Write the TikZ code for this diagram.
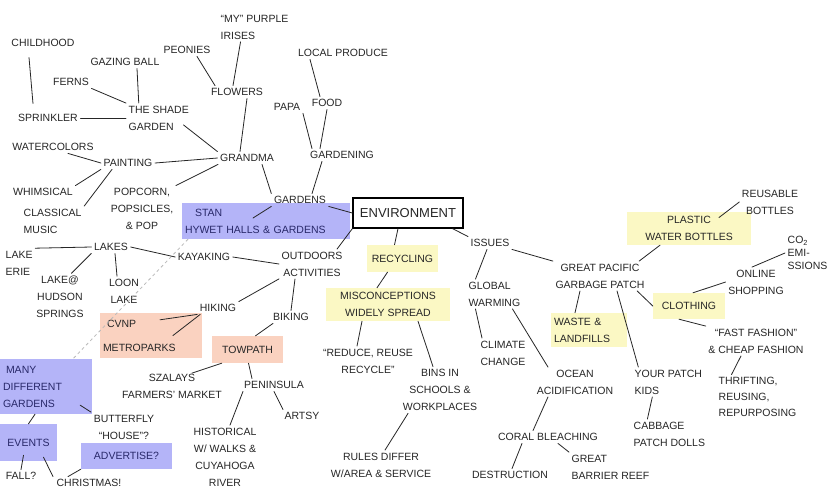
\documentclass[tikz,border=0pt]{standalone}
\usepackage{fontspec}
\setmainfont{Liberation Sans}
\definecolor{inkgray}{RGB}{38,38,38}
\definecolor{navyink}{RGB}{40,40,105}
\definecolor{hiblue}{RGB}{180,180,248}
\definecolor{hipeach}{RGB}{250,210,192}
\definecolor{hiyellow}{RGB}{251,248,196}
\newcommand\handfont{\fontsize{10.5}{17}\selectfont}
\begin{document}
\begin{tikzpicture}[x=1pt, y=-1pt,
  word/.style={font=\handfont, text=inkgray, align=center, inner sep=2.5pt},
  bluebox/.style={word, fill=hiblue, text=navyink, inner sep=3pt},
  peachbox/.style={word, fill=hipeach, inner sep=3pt},
  yellowbox/.style={word, fill=hiyellow, inner sep=3pt},
  link/.style={draw=inkgray, line width=0.8pt, line cap=round},
  dashlink/.style={draw=gray!55, line width=0.8pt, dashed}]
  % Page frame, same size as the scan
  \useasboundingbox[fill=white] (0,0) rectangle (838,496);

  % Childhood memories around Grandma
  \node[word] (childhood) at (43,43) {CHILDHOOD};
  \node[word] (gazing) at (125,62) {GAZING BALL};
  \node[word] (peonies) at (187,50) {PEONIES};
  \node[word, anchor=west, align=left] (irises) at (218,27) {``MY'' PURPLE\\IRISES};
  \node[word] (ferns) at (71,82) {FERNS};
  \node[word, anchor=west, align=left] (shade) at (126,118) {THE SHADE\\GARDEN};
  \node[word] (flowers) at (237,92) {FLOWERS};
  \node[word] (sprinkler) at (48,118) {SPRINKLER};
  \node[word] (watercolors) at (53,147) {WATERCOLORS};
  \node[word] (painting) at (128,163) {PAINTING};
  \node[word] (grandma) at (247,158) {GRANDMA};
  \node[word] (whimsical) at (43,192) {WHIMSICAL};
  \node[word, anchor=west, align=left] (classical) at (21,221) {CLASSICAL\\MUSIC};
  \node[word] (popcorn) at (142,209) {POPCORN,\\POPSICLES,\\\& POP};
  % Papa, food and gardening
  \node[word] (local) at (343,53) {LOCAL PRODUCE};
  \node[word] (papa) at (287,107) {PAPA};
  \node[word] (food) at (327,103) {FOOD};
  \node[word] (gardening) at (342,155) {GARDENING};
  \node[bluebox, text width=162pt, minimum height=36pt, align=left]
    (stan) at (266,221) {\hspace{10pt}STAN\\HYWET HALLS \& GARDENS};
  \node[word] (gardens) at (300,200) {GARDENS};

  % Central topic
  \node[word, font=\fontsize{13}{15}\selectfont, draw=black, line width=1.3pt,
    fill=white, minimum width=110pt, minimum height=30pt] (environment)
    at (408,213) {ENVIRONMENT};

  % Lakes and outdoor activities
  \node[word] (lakes) at (111,247) {LAKES};
  \node[word, anchor=west, align=left] (erie) at (3,263) {LAKE\\ERIE};
  \node[word] (hudson) at (60,297) {LAKE@\\HUDSON\\SPRINGS};
  \node[word] (loon) at (124,291) {LOON\\LAKE};
  \node[word] (kayaking) at (204,257) {KAYAKING};
  \node[word] (outdoors) at (312,264) {OUTDOORS\\ACTIVITIES};
  \node[word] (hiking) at (218,308) {HIKING};
  \node[word] (biking) at (291,317) {BIKING};
  \node[peachbox, text width=96pt, minimum height=45pt, align=left]
    (cvnp) at (151,335.5) {\hspace{4pt}CVNP\\[7pt]METROPARKS};
  \node[peachbox, minimum width=71pt, minimum height=27pt]
    (towpath) at (247.5,349.5) {TOWPATH};
  \node[word] (szalays) at (172,386) {SZALAYS\\FARMERS' MARKET};
  \node[word] (peninsula) at (274,385) {PENINSULA};
  \node[word] (artsy) at (302,416) {ARTSY};
  \node[word] (historical) at (225,457) {HISTORICAL\\W/ WALKS \&\\CUYAHOGA\\RIVER};

  % Events at the gardens (bottom left)
  \node[bluebox, text width=86pt, minimum height=55pt, align=left]
    (many) at (46,386.5) {\hspace{3pt}MANY\\DIFFERENT\\GARDENS};
  \node[word] (butterfly) at (124,427) {BUTTERFLY\\``HOUSE''?};
  \node[bluebox, minimum width=57pt, minimum height=37pt]
    (events) at (28.5,442.5) {EVENTS};
  \node[word] (fall) at (21,476) {FALL?};
  \node[word] (christmas) at (89,483) {CHRISTMAS!};
  \node[bluebox, minimum width=91pt, minimum height=26pt]
    (advertise) at (126.5,456) {ADVERTISE?};

  % Recycling branch
  \node[yellowbox, minimum width=71pt, minimum height=27pt]
    (recycling) at (402.5,258.5) {RECYCLING};
  \node[yellowbox, minimum width=124pt, minimum height=33pt]
    (misconceptions) at (388,304.5) {MISCONCEPTIONS\\WIDELY SPREAD};
  \node[word] (reduce) at (368,361) {``REDUCE, REUSE\\RECYCLE''};
  \node[word] (bins) at (440,390) {BINS IN\\SCHOOLS \&\\WORKPLACES};
  \node[word] (rules) at (381,465) {RULES DIFFER\\W/AREA \& SERVICE};

  % Issues branch
  \node[word] (issues) at (490,243) {ISSUES};
  \node[word, anchor=west, align=left] (global) at (466,294) {GLOBAL\\WARMING};
  \node[word] (climate) at (503,353) {CLIMATE\\CHANGE};
  \node[word] (ocean) at (575,382) {OCEAN\\ACIDIFICATION};
  \node[word] (coral) at (548,437) {CORAL BLEACHING};
  \node[word] (destruction) at (510,475) {DESTRUCTION};
  \node[word, anchor=west, align=left] (reef) at (569,467) {GREAT\\BARRIER REEF};
  \node[word] (pacific) at (600,276) {GREAT PACIFIC\\GARBAGE PATCH};
  \node[yellowbox, minimum width=124pt, minimum height=33pt]
    (plastic) at (689,228.5) {PLASTIC\\WATER BOTTLES};
  \node[word] (reusable) at (770,202) {REUSABLE\\BOTTLES};
  \node[word, anchor=west, align=left] (co2) at (785,253)
    {CO\textsubscript{2}\\[-4pt]EMI-\\[-4pt]SSIONS};
  \node[word] (online) at (756,282) {ONLINE\\SHOPPING};
  \node[yellowbox, minimum width=72pt, minimum height=26pt]
    (clothing) at (689,306) {CLOTHING};
  \node[yellowbox, text width=70pt, minimum height=34pt, align=left]
    (waste) at (589,330) {WASTE \&\\LANDFILLS};
  \node[word] (fast) at (756,341) {``FAST FASHION''\\\& CHEAP FASHION};
  \node[word, anchor=west, align=left] (thrifting) at (716,397)
    {THRIFTING,\\[-1pt]REUSING,\\[-1pt]REPURPOSING};
  \node[word, anchor=west, align=left] (yourpatch) at (632,382) {YOUR PATCH\\KIDS};
  \node[word, anchor=west, align=left] (cabbage) at (631,434) {CABBAGE\\PATCH DOLLS};

  % Connectors of the childhood cluster
  \draw[link] ([xshift=-14pt,yshift=-8pt]childhood.south) -- ([xshift=-15pt,yshift=8pt]sprinkler.north);
  \draw[link] (ferns.south east) -- (shade.north west);
  \draw[link] ([xshift=12pt]gazing.south) -- ([xshift=-20pt]shade.north);
  \draw[link] (sprinkler.east) -- (shade.west);
  \draw[link] ([shift={(-8pt,8pt)}]shade.south east) -- (grandma.north west);
  \draw[link] ([xshift=15pt]watercolors.south) -- (painting.west);
  \draw[link] (painting.east) -- (grandma.west);
  \draw[link] ([xshift=10pt]peonies.south) -- ([xshift=-22pt]flowers.north);
  \draw[link] ([xshift=-14pt]irises.south) -- ([xshift=-4pt]flowers.north);
  \draw[link] ([xshift=10pt]flowers.south) -- ([xshift=-7pt]grandma.north);
  \draw[link] (painting.south west) -- (whimsical.north east);
  \draw[link] ([xshift=-16pt]painting.south) -- (classical.north east);
  \draw[link] ([xshift=-29pt]grandma.south) -- (popcorn.north east);
  \draw[link] ([xshift=15pt]grandma.south) -- (gardens.north west);
  % Connectors of the gardening cluster
  \draw[link] ([xshift=-33pt]local.south) -- ([xshift=-7pt]food.north);
  \draw[link] (papa.south east) -- ([xshift=-30pt]gardening.north);
  \draw[link] (food.south) -- ([xshift=-22pt]gardening.north);
  \draw[link] ([xshift=-20pt]gardening.south) -- ([xshift=12pt]gardens.north);
  \draw[link] ([shift={(-13pt,3pt)}]stan.center) -- (gardens.south west);
  \draw[link] (gardens.south east) -- (environment.west);
  \draw[dashlink] ([xshift=-78pt]stan.south) -- ([xshift=27pt]many.north);

  % Connectors of the outdoors cluster
  \draw[link] (erie.north east) -- (lakes.west);
  \draw[link] (lakes.south west) -- ([xshift=-15pt]hudson.north east);
  \draw[link] ([xshift=4pt]lakes.south) -- ([xshift=-7pt]loon.north);
  \draw[link] (lakes.east) -- (kayaking.west);
  \draw[link] (kayaking.east) -- (outdoors.west);
  \draw[link] (hiking.north east) -- (outdoors.south west);
  \draw[link] (environment.south west) -- ([xshift=-8pt]outdoors.north east);
  \draw[link] ([xshift=-17pt]outdoors.south) -- (biking.north);
  \draw[link] ([shift={(9pt,-7pt)}]cvnp.north) -- (hiking.south west);
  \draw[link] ([xshift=22pt]cvnp.center) -- ([xshift=3pt]hiking.south west);
  \draw[link] ([xshift=8pt]towpath.north) -- ([xshift=-18pt]biking.south);
  \draw[link] ([shift={(20pt,-2pt)}]szalays.north) -- ([xshift=10pt]towpath.south west);
  \draw[link] ([xshift=1pt]towpath.south) -- ([xshift=-22pt]peninsula.north);
  \draw[link] (peninsula.south) -- ([xshift=-19pt]artsy.north);
  \draw[link] ([xshift=-31pt]peninsula.south) -- ([xshift=5pt]historical.north);

  % Connectors of the garden events
  \draw[link] ([shift={(-12pt,9pt)}]many.south east) -- (butterfly.north west);
  \draw[link] ([xshift=-11pt]many.south) -- (events.north);
  \draw[link] ([shift={(-5pt,6pt)}]events.south) -- (fall.north);
  \draw[link] ([shift={(15pt,4pt)}]events.south) -- ([xshift=-36pt]christmas.north);
  \draw[link] ([xshift=-21pt]christmas.north) -- (advertise.south west);

  % Connectors of the recycling branch
  \draw[link] ([xshift=-10pt]environment.south) -- ([xshift=-8pt]recycling.north);
  \draw[link] ([xshift=-15pt]recycling.south) -- ([xshift=-11pt]misconceptions.north);
  \draw[link] ([xshift=-26pt]misconceptions.south) -- ([xshift=-11pt]reduce.north);
  \draw[link] ([xshift=30pt]misconceptions.south) -- ([xshift=-7pt]bins.north);
  \draw[link] ([xshift=-32pt]bins.south) -- ([xshift=4pt]rules.north);

  % Connectors of the issues branch
  \draw[link] ([xshift=-11pt]environment.south east) -- (issues.north west);
  \draw[link] (issues.south east) -- (pacific.north west);
  \draw[link] ([xshift=-3pt]issues.south) -- ([xshift=-19pt]global.north);
  \draw[link] ([xshift=-19pt]global.south) -- ([xshift=-21pt]climate.north);
  \draw[link] ([xshift=18pt]global.south) -- ([xshift=-27pt]ocean.north);
  \draw[link] ([xshift=-27pt]ocean.south) -- ([xshift=-15pt]coral.north);
  \draw[link] ([xshift=-26pt]coral.south) -- ([xshift=2pt]destruction.north);
  \draw[link] ([xshift=10pt]coral.south) -- (reef.north west);
  \draw[link] ([xshift=-8pt]pacific.north east) -- ([xshift=-29pt]plastic.south);
  \draw[link] ([shift={(30pt,11pt)}]plastic.center) -- (reusable.west);
  \draw[link] ([xshift=-20pt]pacific.south) -- ([xshift=-14pt]waste.north);
  \draw[link] ([xshift=17pt]pacific.south) -- ([xshift=-30pt]yourpatch.north);
  \draw[link] ([xshift=-10pt]pacific.south east) -- (clothing.west);
  \draw[link] ([xshift=4pt]clothing.north) -- (online.west);
  \draw[link] ([xshift=-4pt]online.north) -- (co2.west);
  \draw[link] ([xshift=-10pt]clothing.south) -- (fast.north west);
  \draw[link] ([xshift=-15pt]fast.south) -- ([xshift=-26pt]thrifting.north);
  \draw[link] ([xshift=-16pt]yourpatch.south) -- ([xshift=-22pt]cabbage.north);
\end{tikzpicture}
\end{document}
